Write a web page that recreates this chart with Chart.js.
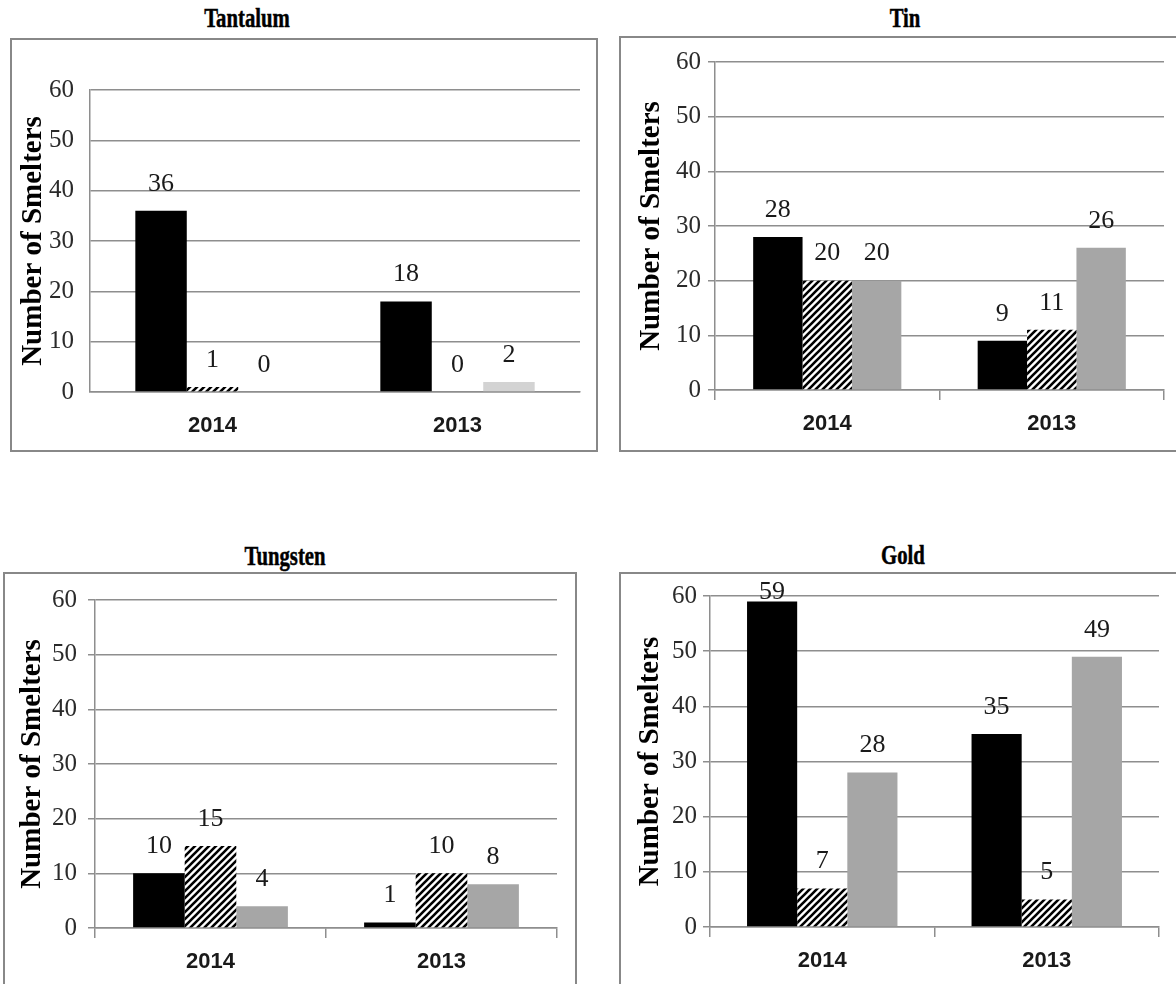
<!DOCTYPE html>
<html>
<head>
<meta charset="utf-8">
<script src="https://cdn.jsdelivr.net/npm/chart.js@4.4.1/dist/chart.umd.min.js"></script>
<style>
  body { margin: 0; background: #fff; width: 1176px; height: 984px; overflow: hidden; position: relative; }
  .title { position: absolute; font-family: "Liberation Serif", "Times New Roman", serif; font-weight: bold;
           font-size: 28px; line-height: 1; color: #000; white-space: nowrap;
           -webkit-text-stroke: 0.5px #000;
           transform: translate(-50%, -50%) scaleX(0.74); }
  .box { position: absolute; border: 2px solid #888; background: #fff; box-sizing: border-box; }
  .box canvas { display: block; }
</style>
</head>
<body>
<div class="title" style="left:247px; top:18px;">Tantalum</div>
<div class="title" style="left:905px; top:18px;">Tin</div>
<div class="title" style="left:285px; top:556px;">Tungsten</div>
<div class="title" style="left:903px; top:555px;">Gold</div>

<div class="box" id="boxTantalum"><canvas id="tantalum"></canvas></div>
<div class="box" id="boxTin"><canvas id="tin"></canvas></div>
<div class="box" id="boxTungsten"><canvas id="tungsten"></canvas></div>
<div class="box" id="boxGold"><canvas id="gold"></canvas></div>

<script>
// Years on the category axis and the shared value axis ticks
const years = ['2014', '2013'];
const yTicks = [0, 10, 20, 30, 40, 50, 60];
const yTitle = 'Number of Smelters';

// Smelter counts per metal: solid, hatched and grey bars
const tantalumSolid   = [36, 18];
const tantalumHatched = [1, 0];
const tantalumGrey    = [0, 2];

const tinSolid   = [28, 9];
const tinHatched = [20, 11];
const tinGrey    = [20, 26];

const tungstenSolid   = [10, 1];
const tungstenHatched = [15, 10];
const tungstenGrey    = [4, 8];

const goldSolid   = [59, 35];
const goldHatched = [7, 5];
const goldGrey    = [28, 49];

const serif = '"Liberation Serif", "Times New Roman", serif';

// Diagonal "/" hatch fill
function makeHatch() {
  const s = 7;
  const c = document.createElement('canvas');
  c.width = s; c.height = s;
  const g = c.getContext('2d');
  g.fillStyle = '#fff';
  g.fillRect(0, 0, s, s);
  g.strokeStyle = '#000';
  g.lineWidth = 2.6;
  g.beginPath();
  g.moveTo(-1, s + 1); g.lineTo(s + 1, -1);
  g.moveTo(-1, 1); g.lineTo(1, -1);
  g.moveTo(s - 1, s + 1); g.lineTo(s + 1, s - 1);
  g.stroke();
  return g.createPattern(c, 'repeat');
}
const hatch = makeHatch();

// Value labels above every bar
const valueLabels = {
  id: 'valueLabels',
  afterDatasetsDraw(chart) {
    const ctx = chart.ctx;
    const area = chart.chartArea;
    ctx.save();
    ctx.font = '26px ' + serif;
    ctx.fillStyle = '#1a1a1a';
    ctx.textAlign = 'center';
    ctx.textBaseline = 'middle';
    chart.data.datasets.forEach((ds, i) => {
      chart.getDatasetMeta(i).data.forEach((bar, j) => {
        const y = Math.max(bar.y - 27, area.top - 4);
        ctx.fillText(String(ds.data[j]), bar.x, y);
      });
    });
    ctx.restore();
  }
};

const gridColor = '#8e8e8e';

function panel(id, boxId, solid, hatched, grey, spec) {
  const box = document.getElementById(boxId);
  box.style.left = spec.box[0] + 'px';
  box.style.top = spec.box[1] + 'px';
  box.style.width = spec.box[2] + 'px';
  box.style.height = spec.box[3] + 'px';
  const cw = spec.box[2] - 4, ch = spec.box[3] - 4;
  const ox = spec.box[0] + 2, oy = spec.box[1] + 2;
  const canvas = document.getElementById(id);
  canvas.width = cw; canvas.height = ch;
  canvas.style.width = cw + 'px'; canvas.style.height = ch + 'px';

  const [aL, aT, aR, aB] = spec.area;
  const yWidth = aL - ox;
  const padTop = aT - oy;
  const padRight = cw - (aR - ox);
  const xHeight = ch - (aB - oy);
  const yTitleSize = 29;
  const yTitlePad = Math.max(0, (spec.yTitleX - ox) - yTitleSize * 1.2 / 2);

  new Chart(canvas, {
    type: 'bar',
    data: {
      labels: years,
      datasets: [
        { label: 'Solid', data: solid, backgroundColor: '#000' },
        { label: 'Hatched', data: hatched, backgroundColor: hatch },
        { label: 'Grey', data: grey, backgroundColor: spec.grey }
      ]
    },
    options: {
      responsive: false,
      animation: false,
      events: [],
      layout: { padding: { top: padTop, right: padRight, left: 0, bottom: 0 } },
      datasets: { bar: { categoryPercentage: spec.catPct, barPercentage: 1.0, borderWidth: 0 } },
      plugins: { legend: { display: false }, tooltip: { enabled: false } },
      scales: {
        x: {
          grid: {
            display: spec.xTickLen > 0,
            drawOnChartArea: false,
            drawTicks: spec.xTickLen > 0,
            tickLength: spec.xTickLen,
            color: gridColor,
            lineWidth: 1.5,
            offset: true
          },
          border: { display: true, color: gridColor, width: 1.5 },
          ticks: {
            padding: spec.xPad,
            color: '#1a1a1a',
            font: { family: '"Liberation Sans", Arial, sans-serif', size: 22, weight: 'bold' }
          },
          afterFit(s) { s.height = xHeight; }
        },
        y: {
          min: 0,
          max: 60,
          afterBuildTicks(s) { s.ticks = yTicks.map(v => ({ value: v })); },
          grid: {
            color: gridColor,
            lineWidth: 1.5,
            drawTicks: spec.yTickLen > 0,
            tickLength: spec.yTickLen
          },
          border: { display: true, color: gridColor, width: 1.5 },
          ticks: {
            padding: spec.yPad,
            color: '#2a2a2a',
            font: { family: serif, size: 25 }
          },
          title: {
            display: true,
            text: yTitle,
            color: '#000',
            padding: { top: yTitlePad, bottom: 0 },
            font: { family: serif, size: yTitleSize, weight: 'bold' }
          },
          afterFit(s) { s.width = yWidth; }
        }
      }
    },
    plugins: [valueLabels]
  });
}

panel('tantalum', 'boxTantalum', tantalumSolid, tantalumHatched, tantalumGrey, {
  box: [10, 38, 588, 414], area: [90, 90, 580, 392],
  yTitleX: 34, yTickLen: 0, yPad: 16, xTickLen: 0, xPad: 21, catPct: 0.63, grey: '#d3d3d3'
});
panel('tin', 'boxTin', tinSolid, tinHatched, tinGrey, {
  box: [619, 36, 562, 416], area: [715, 62, 1164, 390],
  yTitleX: 652, yTickLen: 7, yPad: 7, xTickLen: 10, xPad: 11, catPct: 0.66, grey: '#a6a6a6'
});
panel('tungsten', 'boxTungsten', tungstenSolid, tungstenHatched, tungstenGrey, {
  box: [3, 572, 574, 420], area: [95, 597, 557, 928],
  yTitleX: 33, yTickLen: 7, yPad: 11, xTickLen: 10, xPad: 11, catPct: 0.67, grey: '#a6a6a6'
});
panel('gold', 'boxGold', goldSolid, goldHatched, goldGrey, {
  box: [619, 572, 562, 420], area: [710, 596, 1159, 927],
  yTitleX: 651, yTickLen: 7, yPad: 6, xTickLen: 10, xPad: 11, catPct: 0.67, grey: '#a6a6a6'
});
</script>
</body>
</html>
